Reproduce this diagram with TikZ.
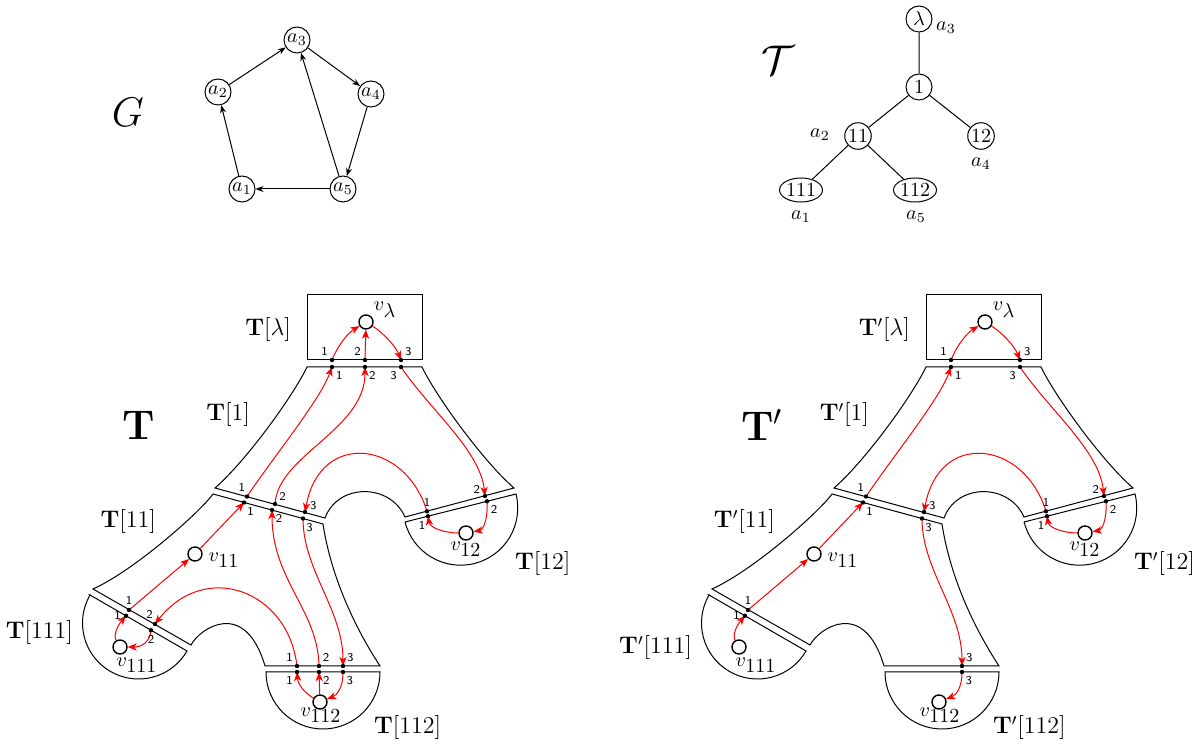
\documentclass[tikz,border=0pt]{standalone}
\usetikzlibrary{arrows.meta,shapes.geometric}
\newcommand{\TFrame}[3]{%
  \draw[frame] (307,295) rectangle (422,360);
  \draw[frame] (307,367) -- (422,367) .. controls (437,398) and (484,462) .. (514,488)
     -- (405,517) .. controls (390,483) and (338,483) .. (325,518)
     -- (215,488) .. controls (245,462) and (292,398) .. (307,367) -- cycle;
  \draw[frame] (213,494) -- (323,524) .. controls (330,570) and (350,620) .. (380,666)
     -- (265,666) .. controls (245,598) and (200,628) .. (191,645)
     -- (93,589) .. controls (135,570) and (200,512) .. (213,494) -- cycle;
  \draw[frame] (405,522) -- (516,494) arc[start angle=14.16, end angle=-165.84, radius=28.6pt] -- cycle;
  \draw[frame] (90,595) -- (187,651) arc[start angle=-30, end angle=-210, radius=28pt] -- cycle;
  \draw[frame] (266,672) -- (380,672) arc[start angle=0, end angle=-180, radius=28.5pt] -- cycle;
  \coordinate (#1L1) at (332,360); \coordinate (#1L2) at (365,360); \coordinate (#1L3) at (401,360);
  \coordinate (#1A1) at (332,367); \coordinate (#1A2) at (365,367); \coordinate (#1A3) at (401,367);
  \coordinate (#1B1) at (247,496.5); \coordinate (#1B2) at (275,504); \coordinate (#1B3) at (305,512);
  \coordinate (#1C1) at (244,502.5); \coordinate (#1C2) at (272,510); \coordinate (#1C3) at (303,518.5);
  \coordinate (#1D1) at (427,511.3); \coordinate (#1D2) at (485,496);
  \coordinate (#1E1) at (428,516.2); \coordinate (#1E2) at (487,501.3);
  \coordinate (#1F1) at (129,610); \coordinate (#1F2) at (155,624);
  \coordinate (#1G1) at (126,615.8); \coordinate (#1G2) at (151,630.2);
  \coordinate (#1H1) at (297,666); \coordinate (#1H2) at (319,666); \coordinate (#1H3) at (343,666);
  \coordinate (#1K1) at (297,672); \coordinate (#1K2) at (319,672); \coordinate (#1K3) at (343,672);
  \node[vnode] (#1vl) at (366,322) {};
  \node[vnode] (#1v11) at (195,554) {};
  \node[vnode] (#1v12) at (466,533) {};
  \node[vnode] (#1v111) at (120,647) {};
  \node[vnode] (#1v112) at (320,702) {};
  \node (#1vll) at (385,310) {$v_{\textstyle\lambda}$};
  \node (#1v11l) at (224,560) {$v_{\textstyle 11}$};
  \node (#1v12l) at (466,549) {$v_{\textstyle 12}$};
  \node (#1v111l) at (137,665) {$v_{\textstyle 111}$};
  \node (#1v112l) at (321,715) {$v_{\textstyle 112}$};
  \node[lab,anchor=east] (#1Tl) at (298,330) {$\mathbf{T}#2[\lambda]$};
  \node[lab,anchor=east] (#1T1) at (257,415) {$\mathbf{T}#2[1]$};
  \node[lab,anchor=east] (#1T11) at (163,522) {$\mathbf{T}#2[11]$};
  \node[lab,anchor=east] (#1T111) at (80,#3) {$\mathbf{T}#2[111]$};
  \node[lab,anchor=west] (#1T12) at (508,564) {$\mathbf{T}#2[12]$};
  \node[lab,anchor=west] (#1T112) at (367,728) {$\mathbf{T}#2[112]$};
  \node[anchor=west] (#1Tbig) at (115,425) {\huge$\mathbf{T}#2$};
}
\newcommand{\pd}[3]{\node[pdot,label={[plab]#3:#2}] at (#1) {};}
\begin{document}
\begin{tikzpicture}[x=0.5pt,y=-0.5pt,
  frame/.style={line width=0.5pt},
  rarr/.style={red, line width=0.5pt, -{Stealth[length=4.5pt,width=3.6pt,inset=1.2pt]}},
  gedge/.style={line width=0.5pt,-{Stealth[length=4pt,width=3pt]}},
  gnode/.style={circle,draw,line width=0.5pt,inner sep=0.5pt,minimum size=13pt},
  tell/.style={ellipse,draw,line width=0.5pt,inner sep=0pt,minimum height=12pt,minimum width=21.5pt},
  vnode/.style={circle,draw,line width=0.7pt,inner sep=0pt,minimum size=7pt},
  pdot/.style={circle,fill,inner sep=0pt,minimum size=2.2pt},
  plab/.style={font=\sffamily\fontsize{6}{7}\selectfont,inner sep=0.6pt,label distance=0.5pt},
  lab/.style={font=\large}
]
\useasboundingbox (0,0) rectangle (1194,747);

% ---- graph G
\node (Glab) at (128,112) {\huge $G$};
\node[gnode] (a3) at (297,40) {$a_3$};
\node[gnode] (a2) at (218,92) {$a_2$};
\node[gnode] (a4) at (371,94) {$a_4$};
\node[gnode] (a1) at (242,189) {$a_1$};
\node[gnode] (a5) at (343,189) {$a_5$};
\draw[gedge] (a2) -- (a3);
\draw[gedge] (a3) -- (a4);
\draw[gedge] (a4) -- (a5);
\draw[gedge] (a5) -- (a3);
\draw[gedge] (a5) -- (a1);
\draw[gedge] (a1) -- (a2);

% ---- tree
\node (Tcal) at (778,60) {\huge $\mathcal{T}$};
\node[gnode] (tl) at (919,19) {$\lambda$};
\node[gnode] (t1) at (919,87) {$1$};
\node[gnode] (t11) at (858,136) {$11$};
\node[gnode] (t12) at (981,136) {$12$};
\node[tell] (t111) at (801,190) {$111$};
\node[tell] (t112) at (915,190) {$112$};
\draw[line width=0.5pt] (tl) -- (t1) (t1) -- (t11) (t1) -- (t12) (t11) -- (t111) (t11) -- (t112);
\node (la3) at (946,28) {$a_3$};
\node (la2) at (820,135) {$a_2$};
\node (la4) at (981,164) {$a_4$};
\node (la1) at (801,217) {$a_1$};
\node (la5) at (916,217) {$a_5$};

% ---- T
\begin{scope}
\TFrame{T}{}{633}
\draw[rarr] (TL1) .. controls (338,345) and (348,333) .. (Tvl);
\draw[rarr] (TL2) -- (Tvl);
\draw[rarr] (Tvl) .. controls (382,332) and (395,345) .. (TL3);
\draw[rarr] (TB1) .. controls (275,455) and (320,400) .. (TA1);
\draw[rarr] (TB2) .. controls (278,455) and (365,430) .. (TA2);
\draw[rarr] (TA3) .. controls (430,410) and (480,450) .. (TD2);
\draw[rarr] (TD1) .. controls (405,440) and (320,430) .. (TB3);
\draw[rarr] (Tv12) .. controls (445,533) and (430,528) .. (TE1);
\draw[rarr] (TE2) .. controls (488,520) and (483,530) .. (Tv12);
\draw[rarr] (Tv11) -- (TC1);
\draw[rarr] (TF1) -- (Tv11);
\draw[rarr] (TH2) .. controls (318,610) and (272,580) .. (TC2);
\draw[rarr] (TC3) .. controls (303,570) and (343,610) .. (TH3);
\draw[rarr] (TH1) .. controls (288,590) and (205,560) .. (TF2);
\draw[rarr] (Tv111) .. controls (113,635) and (118,625) .. (TG1);
\draw[rarr] (TG2) .. controls (150,642) and (142,647) .. (Tv111);
\draw[rarr] (Tv112) .. controls (305,693) and (298,685) .. (TK1);
\draw[rarr] (Tv112) -- (TK2);
\draw[rarr] (TK3) .. controls (343,688) and (337,695) .. (Tv112);
\pd{TL1}{1}{135} \pd{TL2}{2}{135} \pd{TL3}{3}{45}
\pd{TA1}{1}{-45} \pd{TA2}{2}{-45} \pd{TA3}{3}{-135}
\pd{TB1}{1}{95} \pd{TB2}{2}{37} \pd{TB3}{3}{18}
\pd{TC1}{1}{-62} \pd{TC2}{2}{-50} \pd{TC3}{3}{-60}
\pd{TD1}{1}{88} \pd{TD2}{2}{160}
\pd{TE1}{1}{-110} \pd{TE2}{2}{-50}
\pd{TF1}{1}{90} \pd{TF2}{2}{100}
\pd{TG1}{1}{180} \pd{TG2}{2}{-90}
\pd{TH1}{1}{135} \pd{TH2}{2}{50} \pd{TH3}{3}{48}
\pd{TK1}{1}{-135} \pd{TK2}{2}{-45} \pd{TK3}{3}{-57}
\end{scope}

% ---- T'
\begin{scope}[shift={(619,0)}]
\TFrame{P}{'}{648}
\draw[rarr] (PL1) .. controls (338,345) and (348,333) .. (Pvl);
\draw[rarr] (Pvl) .. controls (382,332) and (395,345) .. (PL3);
\draw[rarr] (PB1) .. controls (275,455) and (320,400) .. (PA1);
\draw[rarr] (PA3) .. controls (430,410) and (480,450) .. (PD2);
\draw[rarr] (PD1) .. controls (405,440) and (320,430) .. (PB3);
\draw[rarr] (Pv12) .. controls (445,533) and (430,528) .. (PE1);
\draw[rarr] (PE2) .. controls (488,520) and (483,530) .. (Pv12);
\draw[rarr] (Pv11) -- (PC1);
\draw[rarr] (PF1) -- (Pv11);
\draw[rarr] (PC3) .. controls (303,570) and (343,610) .. (PH3);
\draw[rarr] (Pv111) .. controls (113,635) and (118,625) .. (PG1);
\draw[rarr] (PK3) .. controls (343,688) and (337,695) .. (Pv112);
\pd{PL1}{1}{135} \pd{PL3}{3}{45}
\pd{PA1}{1}{-45} \pd{PA3}{3}{-135}
\pd{PB1}{1}{95} \pd{PB3}{3}{18}
\pd{PC1}{1}{-62} \pd{PC3}{3}{-60}
\pd{PD1}{1}{88} \pd{PD2}{2}{160}
\pd{PE1}{1}{-110} \pd{PE2}{2}{-50}
\pd{PF1}{1}{90}
\pd{PG1}{1}{180}
\pd{PH3}{3}{48}
\pd{PK3}{3}{-57}
\end{scope}
\end{tikzpicture}
\end{document}
